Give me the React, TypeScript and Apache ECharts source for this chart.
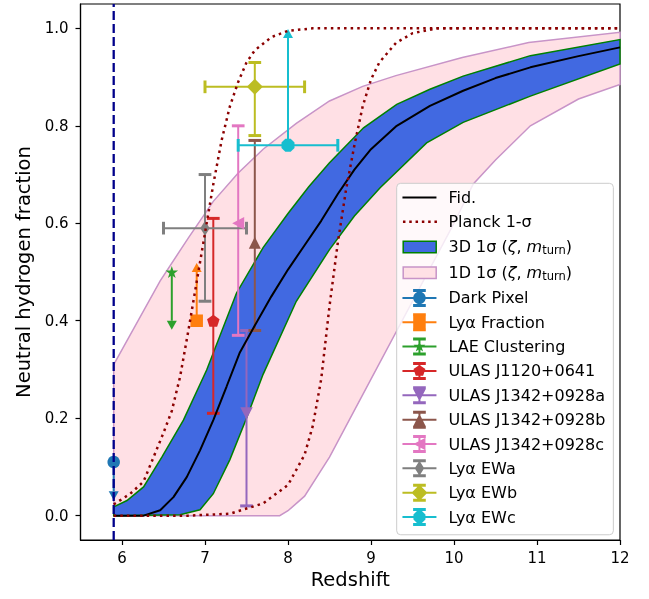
import React, { useEffect, useRef } from "react";
import * as echarts from "echarts";

// ---------- axes ----------
const xTickValues = [6, 7, 8, 9, 10, 11, 12];
const yTickValues = [0, 0.2, 0.4, 0.6, 0.8, 1.0];

// ---------- model curves ----------
const fidZ = [5.9, 6.26, 6.46, 6.62, 6.78, 6.94, 7.1, 7.26, 7.42, 7.6, 7.8, 8.0, 8.2, 8.4, 8.6, 8.8, 9.0, 9.31, 9.71, 10.11, 10.5, 10.92, 11.5, 12];
const fidX = [0, 0, 0.011, 0.038, 0.079, 0.134, 0.196, 0.265, 0.335, 0.39, 0.45, 0.505, 0.555, 0.605, 0.66, 0.71, 0.752, 0.8, 0.841, 0.872, 0.898, 0.92, 0.943, 0.961];

const band3dHiZ = [5.9, 6.06, 6.26, 6.48, 6.74, 7.02, 7.38, 7.7, 8.0, 8.25, 8.5, 8.91, 9.31, 9.71, 10.11, 10.92, 12];
const band3dHiX = [0.018, 0.031, 0.059, 0.12, 0.196, 0.299, 0.457, 0.55, 0.62, 0.675, 0.724, 0.796, 0.844, 0.875, 0.902, 0.944, 0.977];
const band3dLoZ = [5.9, 6.7, 6.94, 7.1, 7.3, 7.5, 7.7, 8.1, 8.5, 8.8, 9.11, 9.67, 10.11, 10.92, 12];
const band3dLoX = [0, 0.002, 0.012, 0.045, 0.115, 0.2, 0.29, 0.44, 0.546, 0.615, 0.673, 0.765, 0.807, 0.861, 0.927];

const band1dHiZ = [5.9, 6.46, 6.8, 7.1, 7.4, 7.7, 8.1, 8.5, 8.9, 9.3, 10.1, 10.9, 12];
const band1dHiX = [0.31, 0.482, 0.57, 0.645, 0.703, 0.752, 0.805, 0.851, 0.881, 0.903, 0.94, 0.971, 0.992];
const band1dLoZ = [5.9, 7.9, 8.0, 8.2, 8.5, 8.75, 9.0, 9.5, 10.0, 10.23, 10.5, 10.92, 11.5, 12];
const band1dLoX = [0, 0, 0.01, 0.04, 0.12, 0.2, 0.28, 0.44, 0.6, 0.68, 0.73, 0.8, 0.855, 0.885];

const planckLoZ = [5.9, 6.1, 6.26, 6.5, 6.6, 6.7, 6.8, 6.9, 7.0, 7.1, 7.2, 7.3, 7.4, 7.5, 7.6, 7.8, 8.0, 8.3, 12];
const planckLoX = [0.023, 0.045, 0.07, 0.17, 0.215, 0.285, 0.38, 0.48, 0.58, 0.68, 0.77, 0.84, 0.89, 0.93, 0.955, 0.982, 0.995, 1.0, 1.0];
const planckHiZ = [5.9, 6.8, 7.3, 7.7, 8.0, 8.2, 8.3, 8.4, 8.5, 8.6, 8.7, 8.8, 8.9, 9.0, 9.1, 9.3, 9.5, 9.8, 12];
const planckHiX = [0, 0, 0.004, 0.025, 0.063, 0.125, 0.185, 0.28, 0.43, 0.56, 0.67, 0.76, 0.84, 0.895, 0.93, 0.97, 0.99, 1.0, 1.0];

const limitLineZ = [5.9, 5.9];
const limitLineX = [-0.05, 1.05];

// ---------- observations ----------
const obsNames = ["Dark Pixel", "Lyα Fraction", "LAE Clustering", "ULAS J1120+0641", "ULAS J1342+0928a", "ULAS J1342+0928b", "ULAS J1342+0928c", "Lyα EWa", "Lyα EWb", "Lyα EWc"];
const obsZ = [5.9, 6.9, 6.6, 7.1, 7.5, 7.6, 7.4, 7.0, 7.6, 8.0];
const obsX = [0.11, 0.4, 0.5, 0.4, 0.21, 0.56, 0.6, 0.59, 0.88, 0.76];
const obsErrLow = [0.06, 0, 0.1, 0.19, 0.19, 0.18, 0.23, 0.15, 0.1, 0];
const obsErrHigh = [0, 0.1, 0, 0.21, 0.17, 0.21, 0.2, 0.11, 0.05, 0.22];
const obsZErrLow = [0, 0, 0, 0, 0, 0, 0, 0.5, 0.6, 0.6];
const obsZErrHigh = [0, 0, 0, 0, 0, 0, 0, 0.5, 0.6, 0.6];
const obsLimit = ["upper", "lower", "upper", "", "", "", "", "", "", "lower"];

// ---------- styling ----------
const obsColors = ["#1f77b4", "#ff7f0e", "#2ca02c", "#d62728", "#9467bd", "#8c564b", "#e377c2", "#7f7f7f", "#bcbd22", "#17becf"];
const obsMarkers = ["circle", "square", "star", "pentagon", "tridown", "triup", "trileft", "thindiamond", "diamond", "octagon"];
const obsMarkerSize: [number, number][] = [[12.5, 12.5], [12.5, 12.5], [12.5, 12], [12.5, 12], [12.5, 12], [12, 12], [12, 12.5], [9.5, 15], [16, 16], [13, 13]];

const FONT = "DejaVu Sans";
const BAND3D = "3D 1σ (ζ, mturn)";
const BAND1D = "1D 1σ (ζ, mturn)";
const PLANCK = "Planck 1-σ";
const FID = "Fid.";

function ngon(n: number, start: number, r = 1): number[][] {
  const pts: number[][] = [];
  for (let k = 0; k < n; k++) {
    const t = start + (k * 2 * Math.PI) / n;
    pts.push([r * Math.cos(t), r * Math.sin(t)]);
  }
  return pts;
}
function starPts(): number[][] {
  const pts: number[][] = [];
  for (let k = 0; k < 10; k++) {
    const t = -Math.PI / 2 + (k * Math.PI) / 5;
    const r = k % 2 === 0 ? 1 : 0.382;
    pts.push([r * Math.cos(t), r * Math.sin(t)]);
  }
  return pts;
}
function markerPts(kind: string): number[][] {
  switch (kind) {
    case "circle": return ngon(24, 0);
    case "square": return [[-1, -1], [1, -1], [1, 1], [-1, 1]];
    case "star": return starPts();
    case "pentagon": return ngon(5, -Math.PI / 2);
    case "tridown": return [[-1, -1], [1, -1], [0, 1]];
    case "triup": return [[0, -1], [1, 1], [-1, 1]];
    case "trileft": return [[-1, 0], [1, -1], [1, 1]];
    case "thindiamond": return [[0, -1], [1, 0], [0, 1], [-1, 0]];
    case "diamond": return [[0, -1], [1, 0], [0, 1], [-1, 0]];
    case "octagon": return ngon(8, Math.PI / 8);
  }
  return ngon(24, 0);
}
function poly(pts: number[][]): string {
  return "M" + pts.map((p) => p[0].toFixed(3) + "," + p[1].toFixed(3)).join("L") + "Z";
}
function rectP(x: number, y: number, w: number, h: number): string {
  return `M${x},${y}h${w}v${h}h${-w}Z`;
}
const IW = 41, IH = 18;
const BOUNDS = `M${IW},0M0,${IH}`;

function errIcon(i: number): string {
  const [w, h] = obsMarkerSize[i];
  const pts = markerPts(obsMarkers[i]).map((p) => [17 + (p[0] * w) / 2, 9 + (p[1] * h) / 2]);
  return "path://" + BOUNDS + rectP(0, 8, 34, 2) + rectP(16, 1.5, 2, 15) + rectP(10.65, 0, 12.7, 3) + rectP(10.65, 15, 12.7, 3) + poly(pts);
}
function dotsIcon(): string {
  let s = BOUNDS;
  for (let k = 0; k < 6; k++) s += rectP(0.5 + k * 6.3, 7.75, 2.5, 2.5);
  return "path://" + s;
}

function bandSeries(name: string, loZ: number[], loX: number[], hiZ: number[], hiX: number[], fill: string, edge: string) {
  return {
    type: "custom",
    name,
    silent: true,
    data: [[hiZ[0], hiX[0]]],
    renderItem: (_p: any, api: any) => {
      const pts: number[][] = [];
      for (let k = 0; k < hiZ.length; k++) pts.push(api.coord([hiZ[k], hiX[k]]));
      for (let k = loZ.length - 1; k >= 0; k--) pts.push(api.coord([loZ[k], loX[k]]));
      return { type: "polygon", shape: { points: pts }, style: { fill, stroke: edge, lineWidth: 1.5 } };
    },
  };
}

function lineSeries(name: string, zs: number[], xs: number[], color: string, width: number, type: any) {
  return {
    type: "line",
    name,
    silent: true,
    showSymbol: false,
    symbol: "none",
    data: zs.map((z, k) => [z, xs[k]]),
    lineStyle: { color, width, type, cap: "butt" },
  };
}

function errSeries(i: number) {
  const c = obsColors[i];
  const lim = obsLimit[i];
  return {
    type: "custom",
    name: obsNames[i],
    silent: true,
    data: [[obsZ[i], obsX[i], obsErrLow[i], obsErrHigh[i], obsZErrLow[i], obsZErrHigh[i]]],
    renderItem: (_p: any, api: any) => {
      const z = api.value(0), x = api.value(1);
      const eL = api.value(2), eH = api.value(3), zL = api.value(4), zH = api.value(5);
      const cap = 6.35;
      const children: any[] = [];
      const seg = (a: number[], b: number[], w: number) => ({
        type: "line",
        shape: { x1: a[0], y1: a[1], x2: b[0], y2: b[1] },
        style: { stroke: c, lineWidth: w },
      });
      const tri = (pts: number[][]) => ({ type: "polygon", shape: { points: pts }, style: { fill: c } });
      if (eL > 0 || eH > 0) {
        const lo = api.coord([z, x - eL]);
        const hi = api.coord([z, x + eH]);
        children.push(seg(lo, hi, 2));
        if (eL > 0) {
          if (lim === "upper") children.push(tri([[lo[0] - 5, lo[1]], [lo[0] + 5, lo[1]], [lo[0], lo[1] + 9]]));
          else children.push(seg([lo[0] - cap, lo[1]], [lo[0] + cap, lo[1]], 3));
        }
        if (eH > 0) {
          if (lim === "lower") children.push(tri([[hi[0] - 5, hi[1]], [hi[0] + 5, hi[1]], [hi[0], hi[1] - 9]]));
          else children.push(seg([hi[0] - cap, hi[1]], [hi[0] + cap, hi[1]], 3));
        }
      }
      if (zL > 0 || zH > 0) {
        const a = api.coord([z - zL, x]);
        const b = api.coord([z + zH, x]);
        children.push(seg(a, b, 2));
        children.push(seg([a[0], a[1] - cap], [a[0], a[1] + cap], 3));
        children.push(seg([b[0], b[1] - cap], [b[0], b[1] + cap], 3));
      }
      return { type: "group", children };
    },
  };
}

function markerSeries(i: number) {
  return {
    type: "scatter",
    name: obsNames[i],
    silent: true,
    data: [[obsZ[i], obsX[i]]],
    symbol: "path://" + poly(markerPts(obsMarkers[i]).map((p) => [p[0] * 10, p[1] * 10])),
    symbolKeepAspect: false,
    symbolSize: obsMarkerSize[i],
    itemStyle: { color: obsColors[i], opacity: 1 },
  };
}

export default function App() {
  const ref = useRef<HTMLDivElement>(null);
  useEffect(() => {
    if (!ref.current) return;
    const chart = echarts.init(ref.current, undefined, { renderer: "svg" });
    const obsSeries: any[] = [];
    for (let i = 0; i < obsNames.length; i++) {
      obsSeries.push(errSeries(i));
      obsSeries.push(markerSeries(i));
    }
    const legendData: any[] = [
      { name: FID, icon: "path://" + BOUNDS + rectP(0, 8, 34, 2), itemStyle: { color: "#000000", borderWidth: 0 } },
      { name: PLANCK, icon: dotsIcon(), itemStyle: { color: "#8b0000", borderWidth: 0 } },
      { name: BAND3D, icon: "path://" + BOUNDS + rectP(0.75, 3.3, 33, 11.4), itemStyle: { color: "#4169e1", borderColor: "#008000", borderWidth: 1.5 } },
      { name: BAND1D, icon: "path://" + BOUNDS + rectP(0.75, 3.3, 33, 11.4), itemStyle: { color: "#ffe0e5", borderColor: "#c894c8", borderWidth: 1.5 } },
      ...obsNames.map((n, i) => ({ name: n, icon: errIcon(i), itemStyle: { color: obsColors[i], borderWidth: 0 } })),
    ];
    chart.setOption({
      animation: false,
      textStyle: { fontFamily: FONT },
      grid: { left: 80.5, top: 4, right: 29, bottom: 59, show: true, borderColor: "#000", borderWidth: 1.2, backgroundColor: "transparent" },
      xAxis: {
        type: "value",
        min: 5.5,
        max: 12,
        name: "Redshift",
        nameLocation: "middle",
        nameGap: 28,
        nameTextStyle: { fontSize: 19.5, color: "#000", fontFamily: FONT },
        axisLine: { show: true, onZero: false, lineStyle: { color: "#000", width: 1.2 } },
        axisTick: { show: true, inside: false, length: 5, customValues: xTickValues, lineStyle: { color: "#000", width: 1.2 } },
        axisLabel: { show: true, margin: 10, fontSize: 15, color: "#000", fontFamily: FONT, customValues: xTickValues, formatter: (v: number) => String(v) },
        splitLine: { show: false },
      },
      yAxis: {
        type: "value",
        min: -0.05,
        max: 1.05,
        name: "Neutral hydrogen fraction",
        nameLocation: "middle",
        nameGap: 46,
        nameRotate: 90,
        nameTextStyle: { fontSize: 19.5, color: "#000", fontFamily: FONT },
        axisLine: { show: true, onZero: false, lineStyle: { color: "#000", width: 1.2 } },
        axisTick: { show: true, inside: false, length: 5, customValues: yTickValues, lineStyle: { color: "#000", width: 1.2 } },
        axisLabel: { show: true, margin: 12, fontSize: 15, color: "#000", fontFamily: FONT, customValues: yTickValues, formatter: (v: number) => v.toFixed(1) },
        splitLine: { show: false },
      },
      legend: {
        show: true,
        orient: "vertical",
        left: 396.7,
        top: 183.3,
        data: legendData,
        selectedMode: false,
        itemWidth: IW,
        itemHeight: IH,
        itemGap: 6.35,
        padding: [5.2, 8, 8.7, 5],
        backgroundColor: "rgba(255,255,255,0.8)",
        borderColor: "#cccccc",
        borderWidth: 1,
        borderRadius: 4,
        symbolKeepAspect: true,
        formatter: (name: string) => {
          if (name === BAND3D) return "3D 1σ ({i|ζ}, {i|m}{s|turn})";
          if (name === BAND1D) return "1D 1σ ({i|ζ}, {i|m}{s|turn})";
          return name;
        },
        textStyle: {
          fontSize: 16,
          lineHeight: 18,
          color: "#000",
          fontFamily: FONT,
          rich: {
            i: { fontSize: 16, fontStyle: "italic", fontFamily: FONT, color: "#000", lineHeight: 18 },
            s: { fontSize: 11.5, fontFamily: FONT, color: "#000", padding: [7, 0, 0, 0], lineHeight: 18 },
          },
        },
      },
      series: [
        bandSeries(BAND1D, band1dLoZ, band1dLoX, band1dHiZ, band1dHiX, "#ffe0e5", "#c894c8"),
        bandSeries(BAND3D, band3dLoZ, band3dLoX, band3dHiZ, band3dHiX, "#4169e1", "#008000"),
        lineSeries(FID, fidZ, fidX, "#000000", 2, "solid"),
        lineSeries(PLANCK, planckLoZ, planckLoX, "#8b0000", 2.5, [2.5, 4.1]),
        lineSeries(PLANCK, planckHiZ, planckHiX, "#8b0000", 2.5, [2.5, 4.1]),
        lineSeries("z = 5.9", limitLineZ, limitLineX, "#00008b", 2.3, [9, 4]),
        ...obsSeries,
      ],
    });
    return () => chart.dispose();
  }, []);
  return <div ref={ref} style={{ position: "fixed", left: 0, top: 0, width: 649, height: 599 }} />;
}
